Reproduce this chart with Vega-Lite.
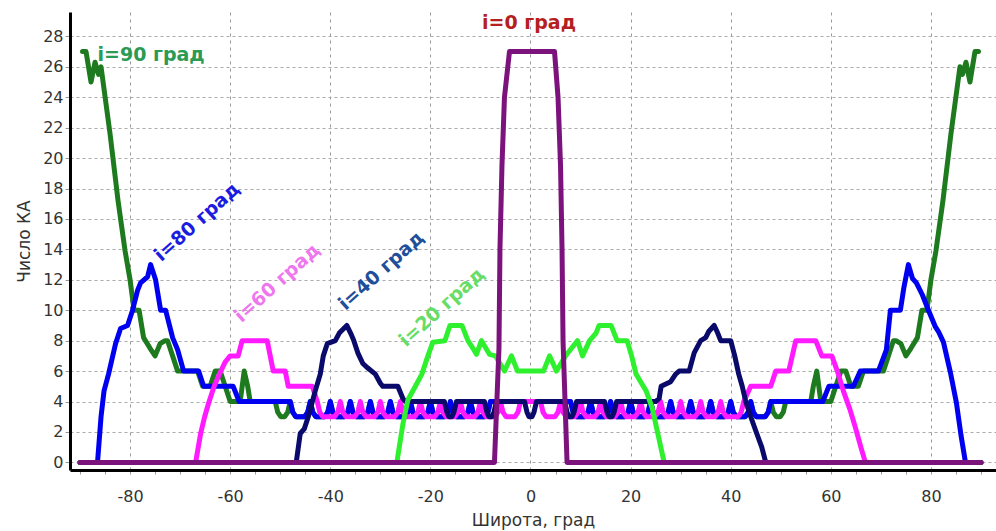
{
  "$schema": "https://vega.github.io/schema/vega-lite/v6.json",
  "autosize": "none",
  "width": 926,
  "height": 458,
  "padding": {"left": 70, "top": 12, "right": 0, "bottom": 61},
  "background": "white",
  "config": {"view": {"stroke": null}},
  "datasets": {
    "curves": [
      {"s": "90", "lat": -89.5, "n": 27}, {"s": "90", "lat": -88.8, "n": 27}, {"s": "90", "lat": -87.8, "n": 25}, {"s": "90", "lat": -87, "n": 26.3}, {"s": "90", "lat": -86.3, "n": 25.5}, {"s": "90", "lat": -85.8, "n": 26}, {"s": "90", "lat": -84, "n": 21.6}, {"s": "90", "lat": -82.4, "n": 17.2}, {"s": "90", "lat": -81, "n": 13.9}, {"s": "90", "lat": -80, "n": 12}, {"s": "90", "lat": -79.2, "n": 10}, {"s": "90", "lat": -78.2, "n": 10}, {"s": "90", "lat": -77.3, "n": 8.2}, {"s": "90", "lat": -76, "n": 7.5}, {"s": "90", "lat": -75, "n": 7}, {"s": "90", "lat": -74, "n": 7.8}, {"s": "90", "lat": -73, "n": 8}, {"s": "90", "lat": -72.5, "n": 8}, {"s": "90", "lat": -71.5, "n": 7}, {"s": "90", "lat": -70.5, "n": 6}, {"s": "90", "lat": -66.5, "n": 6}, {"s": "90", "lat": -65.5, "n": 5}, {"s": "90", "lat": -64, "n": 5}, {"s": "90", "lat": -63, "n": 6}, {"s": "90", "lat": -62, "n": 6}, {"s": "90", "lat": -61, "n": 5}, {"s": "90", "lat": -60, "n": 4}, {"s": "90", "lat": -58, "n": 4}, {"s": "90", "lat": -57.2, "n": 6}, {"s": "90", "lat": -56.5, "n": 5}, {"s": "90", "lat": -56, "n": 4}, {"s": "90", "lat": -51, "n": 4}, {"s": "90", "lat": -50.5, "n": 3.3}, {"s": "90", "lat": -49.9, "n": 3}, {"s": "90", "lat": -49.1, "n": 3}, {"s": "90", "lat": -48.5, "n": 3.3}, {"s": "90", "lat": -48, "n": 4},
      {"s": "90", "lat": -47.5, "n": 3.3}, {"s": "90", "lat": -46.9, "n": 3}, {"s": "90", "lat": -45.1, "n": 3}, {"s": "90", "lat": -44.5, "n": 3.3}, {"s": "90", "lat": -44, "n": 4},
      {"s": "90", "lat": -43.5, "n": 3.3}, {"s": "90", "lat": -42.9, "n": 3}, {"s": "90", "lat": -41.1, "n": 3}, {"s": "90", "lat": -40.5, "n": 3.3}, {"s": "90", "lat": -40, "n": 4},
      {"s": "90", "lat": -39.5, "n": 3.3}, {"s": "90", "lat": -38.9, "n": 3}, {"s": "90", "lat": -37.1, "n": 3}, {"s": "90", "lat": -36.5, "n": 3.3}, {"s": "90", "lat": -36, "n": 4},
      {"s": "90", "lat": -35.5, "n": 3.3}, {"s": "90", "lat": -34.9, "n": 3}, {"s": "90", "lat": -33.1, "n": 3}, {"s": "90", "lat": -32.5, "n": 3.3}, {"s": "90", "lat": -32, "n": 4},
      {"s": "90", "lat": -31.5, "n": 3.3}, {"s": "90", "lat": -30.9, "n": 3}, {"s": "90", "lat": -29.1, "n": 3}, {"s": "90", "lat": -28.5, "n": 3.3}, {"s": "90", "lat": -28, "n": 4},
      {"s": "90", "lat": -27.5, "n": 3.3}, {"s": "90", "lat": -26.9, "n": 3}, {"s": "90", "lat": -25.1, "n": 3}, {"s": "90", "lat": -24.5, "n": 3.3}, {"s": "90", "lat": -24, "n": 4},
      {"s": "90", "lat": -23.5, "n": 3.3}, {"s": "90", "lat": -22.9, "n": 3}, {"s": "90", "lat": -21.1, "n": 3}, {"s": "90", "lat": -20.5, "n": 3.3}, {"s": "90", "lat": -20, "n": 4},
      {"s": "90", "lat": -19.5, "n": 3.3}, {"s": "90", "lat": -18.9, "n": 3}, {"s": "90", "lat": -17.1, "n": 3}, {"s": "90", "lat": -16.5, "n": 3.3}, {"s": "90", "lat": -16, "n": 4},
      {"s": "90", "lat": -15.5, "n": 3.3}, {"s": "90", "lat": -14.9, "n": 3}, {"s": "90", "lat": -13.1, "n": 3}, {"s": "90", "lat": -12.5, "n": 3.3}, {"s": "90", "lat": -12, "n": 4},
      {"s": "90", "lat": -11.5, "n": 3.3}, {"s": "90", "lat": -10.9, "n": 3}, {"s": "90", "lat": -9.1, "n": 3}, {"s": "90", "lat": -8.5, "n": 3.3}, {"s": "90", "lat": -8, "n": 4},
      {"s": "90", "lat": 8, "n": 4}, {"s": "90", "lat": 8.5, "n": 3.3}, {"s": "90", "lat": 9.1, "n": 3}, {"s": "90", "lat": 10.9, "n": 3}, {"s": "90", "lat": 11.5, "n": 3.3},
      {"s": "90", "lat": 12, "n": 4}, {"s": "90", "lat": 12.5, "n": 3.3}, {"s": "90", "lat": 13.1, "n": 3}, {"s": "90", "lat": 14.9, "n": 3}, {"s": "90", "lat": 15.5, "n": 3.3},
      {"s": "90", "lat": 16, "n": 4}, {"s": "90", "lat": 16.5, "n": 3.3}, {"s": "90", "lat": 17.1, "n": 3}, {"s": "90", "lat": 18.9, "n": 3}, {"s": "90", "lat": 19.5, "n": 3.3},
      {"s": "90", "lat": 20, "n": 4}, {"s": "90", "lat": 20.5, "n": 3.3}, {"s": "90", "lat": 21.1, "n": 3}, {"s": "90", "lat": 22.9, "n": 3}, {"s": "90", "lat": 23.5, "n": 3.3},
      {"s": "90", "lat": 24, "n": 4}, {"s": "90", "lat": 24.5, "n": 3.3}, {"s": "90", "lat": 25.1, "n": 3}, {"s": "90", "lat": 26.9, "n": 3}, {"s": "90", "lat": 27.5, "n": 3.3},
      {"s": "90", "lat": 28, "n": 4}, {"s": "90", "lat": 28.5, "n": 3.3}, {"s": "90", "lat": 29.1, "n": 3}, {"s": "90", "lat": 30.9, "n": 3}, {"s": "90", "lat": 31.5, "n": 3.3},
      {"s": "90", "lat": 32, "n": 4}, {"s": "90", "lat": 32.5, "n": 3.3}, {"s": "90", "lat": 33.1, "n": 3}, {"s": "90", "lat": 34.9, "n": 3}, {"s": "90", "lat": 35.5, "n": 3.3},
      {"s": "90", "lat": 36, "n": 4}, {"s": "90", "lat": 36.5, "n": 3.3}, {"s": "90", "lat": 37.1, "n": 3}, {"s": "90", "lat": 38.9, "n": 3}, {"s": "90", "lat": 39.5, "n": 3.3},
      {"s": "90", "lat": 40, "n": 4}, {"s": "90", "lat": 40.5, "n": 3.3}, {"s": "90", "lat": 41.1, "n": 3}, {"s": "90", "lat": 42.9, "n": 3}, {"s": "90", "lat": 43.5, "n": 3.3},
      {"s": "90", "lat": 44, "n": 4}, {"s": "90", "lat": 44.5, "n": 3.3}, {"s": "90", "lat": 45.1, "n": 3}, {"s": "90", "lat": 46.9, "n": 3}, {"s": "90", "lat": 47.5, "n": 3.3},
      {"s": "90", "lat": 48, "n": 4}, {"s": "90", "lat": 48.5, "n": 3.3}, {"s": "90", "lat": 49.1, "n": 3}, {"s": "90", "lat": 49.9, "n": 3}, {"s": "90", "lat": 50.5, "n": 3.3}, {"s": "90", "lat": 51, "n": 4}, {"s": "90", "lat": 56, "n": 4}, {"s": "90", "lat": 56.5, "n": 5}, {"s": "90", "lat": 57.2, "n": 6}, {"s": "90", "lat": 58, "n": 4}, {"s": "90", "lat": 60, "n": 4}, {"s": "90", "lat": 61, "n": 5}, {"s": "90", "lat": 62, "n": 6}, {"s": "90", "lat": 63, "n": 6}, {"s": "90", "lat": 64, "n": 5}, {"s": "90", "lat": 65.5, "n": 5}, {"s": "90", "lat": 66.5, "n": 6}, {"s": "90", "lat": 70.5, "n": 6}, {"s": "90", "lat": 71.5, "n": 7}, {"s": "90", "lat": 72.5, "n": 8}, {"s": "90", "lat": 73, "n": 8}, {"s": "90", "lat": 74, "n": 7.8}, {"s": "90", "lat": 75, "n": 7}, {"s": "90", "lat": 76, "n": 7.5}, {"s": "90", "lat": 77.3, "n": 8.2}, {"s": "90", "lat": 78.2, "n": 10}, {"s": "90", "lat": 79.2, "n": 10}, {"s": "90", "lat": 80, "n": 12}, {"s": "90", "lat": 81, "n": 13.9}, {"s": "90", "lat": 82.4, "n": 17.2}, {"s": "90", "lat": 84, "n": 21.6}, {"s": "90", "lat": 85.8, "n": 26}, {"s": "90", "lat": 86.3, "n": 25.5}, {"s": "90", "lat": 87, "n": 26.3}, {"s": "90", "lat": 87.8, "n": 25}, {"s": "90", "lat": 88.8, "n": 27}, {"s": "90", "lat": 89.5, "n": 27},

      {"s": "80", "lat": -90, "n": 0}, {"s": "80", "lat": -86.5, "n": 0}, {"s": "80", "lat": -85.8, "n": 3}, {"s": "80", "lat": -85.2, "n": 4.7}, {"s": "80", "lat": -84.3, "n": 5.8}, {"s": "80", "lat": -82.9, "n": 7.8}, {"s": "80", "lat": -81.9, "n": 8.8}, {"s": "80", "lat": -80.5, "n": 9}, {"s": "80", "lat": -79.5, "n": 10}, {"s": "80", "lat": -78.5, "n": 11.3}, {"s": "80", "lat": -77.9, "n": 11.8}, {"s": "80", "lat": -76.5, "n": 12.2}, {"s": "80", "lat": -75.9, "n": 13}, {"s": "80", "lat": -74.9, "n": 12}, {"s": "80", "lat": -73.9, "n": 10}, {"s": "80", "lat": -72.9, "n": 10}, {"s": "80", "lat": -71.5, "n": 8.2}, {"s": "80", "lat": -70.5, "n": 7.4}, {"s": "80", "lat": -69.3, "n": 6}, {"s": "80", "lat": -66.3, "n": 6}, {"s": "80", "lat": -65.3, "n": 5}, {"s": "80", "lat": -59.4, "n": 5}, {"s": "80", "lat": -58.2, "n": 4}, {"s": "80", "lat": -48, "n": 4},
      {"s": "80", "lat": -47.5, "n": 3.3}, {"s": "80", "lat": -46.9, "n": 3}, {"s": "80", "lat": -45.1, "n": 3}, {"s": "80", "lat": -44.5, "n": 3.3}, {"s": "80", "lat": -44, "n": 4},
      {"s": "80", "lat": -43.5, "n": 3.3}, {"s": "80", "lat": -42.9, "n": 3}, {"s": "80", "lat": -41.1, "n": 3}, {"s": "80", "lat": -40.5, "n": 3.3}, {"s": "80", "lat": -40, "n": 4},
      {"s": "80", "lat": -39.5, "n": 3.3}, {"s": "80", "lat": -38.9, "n": 3}, {"s": "80", "lat": -37.1, "n": 3}, {"s": "80", "lat": -36.5, "n": 3.3}, {"s": "80", "lat": -36, "n": 4},
      {"s": "80", "lat": -35.5, "n": 3.3}, {"s": "80", "lat": -34.9, "n": 3}, {"s": "80", "lat": -33.1, "n": 3}, {"s": "80", "lat": -32.5, "n": 3.3}, {"s": "80", "lat": -32, "n": 4},
      {"s": "80", "lat": -31.5, "n": 3.3}, {"s": "80", "lat": -30.9, "n": 3}, {"s": "80", "lat": -29.1, "n": 3}, {"s": "80", "lat": -28.5, "n": 3.3}, {"s": "80", "lat": -28, "n": 4},
      {"s": "80", "lat": -27.5, "n": 3.3}, {"s": "80", "lat": -26.9, "n": 3}, {"s": "80", "lat": -25.1, "n": 3}, {"s": "80", "lat": -24.5, "n": 3.3}, {"s": "80", "lat": -24, "n": 4},
      {"s": "80", "lat": -23.5, "n": 3.3}, {"s": "80", "lat": -22.9, "n": 3}, {"s": "80", "lat": -21.1, "n": 3}, {"s": "80", "lat": -20.5, "n": 3.3}, {"s": "80", "lat": -20, "n": 4},
      {"s": "80", "lat": -19.5, "n": 3.3}, {"s": "80", "lat": -18.9, "n": 3}, {"s": "80", "lat": -17.1, "n": 3}, {"s": "80", "lat": -16.5, "n": 3.3}, {"s": "80", "lat": -16, "n": 4},
      {"s": "80", "lat": -15.5, "n": 3.3}, {"s": "80", "lat": -14.9, "n": 3}, {"s": "80", "lat": -13.1, "n": 3}, {"s": "80", "lat": -12.5, "n": 3.3}, {"s": "80", "lat": -12, "n": 4},
      {"s": "80", "lat": -11.5, "n": 3.3}, {"s": "80", "lat": -10.9, "n": 3}, {"s": "80", "lat": -9.1, "n": 3}, {"s": "80", "lat": -8.5, "n": 3.3}, {"s": "80", "lat": -8, "n": 4},
      {"s": "80", "lat": 8, "n": 4}, {"s": "80", "lat": 8.5, "n": 3.3}, {"s": "80", "lat": 9.1, "n": 3}, {"s": "80", "lat": 10.9, "n": 3}, {"s": "80", "lat": 11.5, "n": 3.3},
      {"s": "80", "lat": 12, "n": 4}, {"s": "80", "lat": 12.5, "n": 3.3}, {"s": "80", "lat": 13.1, "n": 3}, {"s": "80", "lat": 14.9, "n": 3}, {"s": "80", "lat": 15.5, "n": 3.3},
      {"s": "80", "lat": 16, "n": 4}, {"s": "80", "lat": 16.5, "n": 3.3}, {"s": "80", "lat": 17.1, "n": 3}, {"s": "80", "lat": 18.9, "n": 3}, {"s": "80", "lat": 19.5, "n": 3.3},
      {"s": "80", "lat": 20, "n": 4}, {"s": "80", "lat": 20.5, "n": 3.3}, {"s": "80", "lat": 21.1, "n": 3}, {"s": "80", "lat": 22.9, "n": 3}, {"s": "80", "lat": 23.5, "n": 3.3},
      {"s": "80", "lat": 24, "n": 4}, {"s": "80", "lat": 24.5, "n": 3.3}, {"s": "80", "lat": 25.1, "n": 3}, {"s": "80", "lat": 26.9, "n": 3}, {"s": "80", "lat": 27.5, "n": 3.3},
      {"s": "80", "lat": 28, "n": 4}, {"s": "80", "lat": 28.5, "n": 3.3}, {"s": "80", "lat": 29.1, "n": 3}, {"s": "80", "lat": 30.9, "n": 3}, {"s": "80", "lat": 31.5, "n": 3.3},
      {"s": "80", "lat": 32, "n": 4}, {"s": "80", "lat": 32.5, "n": 3.3}, {"s": "80", "lat": 33.1, "n": 3}, {"s": "80", "lat": 34.9, "n": 3}, {"s": "80", "lat": 35.5, "n": 3.3},
      {"s": "80", "lat": 36, "n": 4}, {"s": "80", "lat": 36.5, "n": 3.3}, {"s": "80", "lat": 37.1, "n": 3}, {"s": "80", "lat": 38.9, "n": 3}, {"s": "80", "lat": 39.5, "n": 3.3},
      {"s": "80", "lat": 40, "n": 4}, {"s": "80", "lat": 40.5, "n": 3.3}, {"s": "80", "lat": 41.1, "n": 3}, {"s": "80", "lat": 42.9, "n": 3}, {"s": "80", "lat": 43.5, "n": 3.3},
      {"s": "80", "lat": 44, "n": 4}, {"s": "80", "lat": 44.5, "n": 3.3}, {"s": "80", "lat": 45.1, "n": 3}, {"s": "80", "lat": 46.9, "n": 3}, {"s": "80", "lat": 47.5, "n": 3.3},
      {"s": "80", "lat": 48, "n": 4}, {"s": "80", "lat": 58.4, "n": 4}, {"s": "80", "lat": 59.6, "n": 5}, {"s": "80", "lat": 64.5, "n": 5}, {"s": "80", "lat": 65.9, "n": 6}, {"s": "80", "lat": 69.5, "n": 6}, {"s": "80", "lat": 71.1, "n": 7.4}, {"s": "80", "lat": 71.9, "n": 10}, {"s": "80", "lat": 73.9, "n": 10}, {"s": "80", "lat": 74.6, "n": 11.5}, {"s": "80", "lat": 75.5, "n": 13}, {"s": "80", "lat": 76.3, "n": 12.1}, {"s": "80", "lat": 77.1, "n": 11.8}, {"s": "80", "lat": 78.3, "n": 11}, {"s": "80", "lat": 79.5, "n": 10}, {"s": "80", "lat": 80.9, "n": 8.9}, {"s": "80", "lat": 81.5, "n": 8.6}, {"s": "80", "lat": 82.5, "n": 7.9}, {"s": "80", "lat": 83.9, "n": 5.9}, {"s": "80", "lat": 85.1, "n": 3.9}, {"s": "80", "lat": 86, "n": 1.8}, {"s": "80", "lat": 86.9, "n": 0}, {"s": "80", "lat": 90, "n": 0},

      {"s": "60", "lat": -90, "n": 0}, {"s": "60", "lat": -66.9, "n": 0}, {"s": "60", "lat": -65.9, "n": 1.9}, {"s": "60", "lat": -65.1, "n": 3}, {"s": "60", "lat": -64.3, "n": 3.9}, {"s": "60", "lat": -63.2, "n": 5}, {"s": "60", "lat": -62, "n": 5.9}, {"s": "60", "lat": -61, "n": 6.6}, {"s": "60", "lat": -60, "n": 7}, {"s": "60", "lat": -58.4, "n": 7}, {"s": "60", "lat": -57.6, "n": 8}, {"s": "60", "lat": -52.6, "n": 8}, {"s": "60", "lat": -51.4, "n": 6}, {"s": "60", "lat": -49, "n": 6}, {"s": "60", "lat": -48.4, "n": 5}, {"s": "60", "lat": -43.6, "n": 5}, {"s": "60", "lat": -42.6, "n": 4},
      {"s": "60", "lat": -42.1, "n": 3.3}, {"s": "60", "lat": -41.5, "n": 3}, {"s": "60", "lat": -39.1, "n": 3}, {"s": "60", "lat": -38.5, "n": 3.3}, {"s": "60", "lat": -38, "n": 4},
      {"s": "60", "lat": -37.5, "n": 3.3}, {"s": "60", "lat": -36.9, "n": 3}, {"s": "60", "lat": -35.1, "n": 3}, {"s": "60", "lat": -34.5, "n": 3.3}, {"s": "60", "lat": -34, "n": 4},
      {"s": "60", "lat": -33.5, "n": 3.3}, {"s": "60", "lat": -32.9, "n": 3}, {"s": "60", "lat": -31.1, "n": 3}, {"s": "60", "lat": -30.5, "n": 3.3}, {"s": "60", "lat": -30, "n": 4},
      {"s": "60", "lat": -29.5, "n": 3.3}, {"s": "60", "lat": -28.9, "n": 3}, {"s": "60", "lat": -27.1, "n": 3}, {"s": "60", "lat": -26.5, "n": 3.3}, {"s": "60", "lat": -26, "n": 4},
      {"s": "60", "lat": -25.5, "n": 3.3}, {"s": "60", "lat": -24.9, "n": 3}, {"s": "60", "lat": -23.1, "n": 3}, {"s": "60", "lat": -22.5, "n": 3.3}, {"s": "60", "lat": -22, "n": 4},
      {"s": "60", "lat": -21.5, "n": 3.3}, {"s": "60", "lat": -20.9, "n": 3}, {"s": "60", "lat": -19.1, "n": 3}, {"s": "60", "lat": -18.5, "n": 3.3}, {"s": "60", "lat": -18, "n": 4},
      {"s": "60", "lat": -17.5, "n": 3.3}, {"s": "60", "lat": -16.9, "n": 3}, {"s": "60", "lat": -15.1, "n": 3}, {"s": "60", "lat": -14.5, "n": 3.3}, {"s": "60", "lat": -14, "n": 4},
      {"s": "60", "lat": -13.5, "n": 3.3}, {"s": "60", "lat": -12.9, "n": 3}, {"s": "60", "lat": -11.1, "n": 3}, {"s": "60", "lat": -10.5, "n": 3.3}, {"s": "60", "lat": -10, "n": 4},
      {"s": "60", "lat": -9.5, "n": 3.3}, {"s": "60", "lat": -8.9, "n": 3}, {"s": "60", "lat": -7.1, "n": 3}, {"s": "60", "lat": -6.5, "n": 3.3}, {"s": "60", "lat": -6, "n": 4},
      {"s": "60", "lat": -5.5, "n": 3.3}, {"s": "60", "lat": -4.9, "n": 3}, {"s": "60", "lat": -3.1, "n": 3}, {"s": "60", "lat": -2.5, "n": 3.3}, {"s": "60", "lat": -2, "n": 4},
      {"s": "60", "lat": 2, "n": 4}, {"s": "60", "lat": 2.5, "n": 3.3}, {"s": "60", "lat": 3.1, "n": 3}, {"s": "60", "lat": 4.9, "n": 3}, {"s": "60", "lat": 5.5, "n": 3.3},
      {"s": "60", "lat": 6, "n": 4}, {"s": "60", "lat": 6.5, "n": 3.3}, {"s": "60", "lat": 7.1, "n": 3}, {"s": "60", "lat": 8.9, "n": 3}, {"s": "60", "lat": 9.5, "n": 3.3},
      {"s": "60", "lat": 10, "n": 4}, {"s": "60", "lat": 10.5, "n": 3.3}, {"s": "60", "lat": 11.1, "n": 3}, {"s": "60", "lat": 12.9, "n": 3}, {"s": "60", "lat": 13.5, "n": 3.3},
      {"s": "60", "lat": 14, "n": 4}, {"s": "60", "lat": 14.5, "n": 3.3}, {"s": "60", "lat": 15.1, "n": 3}, {"s": "60", "lat": 16.9, "n": 3}, {"s": "60", "lat": 17.5, "n": 3.3},
      {"s": "60", "lat": 18, "n": 4}, {"s": "60", "lat": 18.5, "n": 3.3}, {"s": "60", "lat": 19.1, "n": 3}, {"s": "60", "lat": 20.9, "n": 3}, {"s": "60", "lat": 21.5, "n": 3.3},
      {"s": "60", "lat": 22, "n": 4}, {"s": "60", "lat": 22.5, "n": 3.3}, {"s": "60", "lat": 23.1, "n": 3}, {"s": "60", "lat": 24.9, "n": 3}, {"s": "60", "lat": 25.5, "n": 3.3},
      {"s": "60", "lat": 26, "n": 4}, {"s": "60", "lat": 26.5, "n": 3.3}, {"s": "60", "lat": 27.1, "n": 3}, {"s": "60", "lat": 28.9, "n": 3}, {"s": "60", "lat": 29.5, "n": 3.3},
      {"s": "60", "lat": 30, "n": 4}, {"s": "60", "lat": 30.5, "n": 3.3}, {"s": "60", "lat": 31.1, "n": 3}, {"s": "60", "lat": 32.9, "n": 3}, {"s": "60", "lat": 33.5, "n": 3.3},
      {"s": "60", "lat": 34, "n": 4}, {"s": "60", "lat": 34.5, "n": 3.3}, {"s": "60", "lat": 35.1, "n": 3}, {"s": "60", "lat": 36.9, "n": 3}, {"s": "60", "lat": 37.5, "n": 3.3},
      {"s": "60", "lat": 38, "n": 4}, {"s": "60", "lat": 38.5, "n": 3.3}, {"s": "60", "lat": 39.1, "n": 3}, {"s": "60", "lat": 41.5, "n": 3}, {"s": "60", "lat": 42.1, "n": 3.3},
      {"s": "60", "lat": 42.6, "n": 4}, {"s": "60", "lat": 44, "n": 5}, {"s": "60", "lat": 48, "n": 5}, {"s": "60", "lat": 49, "n": 6}, {"s": "60", "lat": 51.6, "n": 6}, {"s": "60", "lat": 53, "n": 8}, {"s": "60", "lat": 57, "n": 8}, {"s": "60", "lat": 58.2, "n": 7}, {"s": "60", "lat": 60.2, "n": 7}, {"s": "60", "lat": 61.3, "n": 6}, {"s": "60", "lat": 62.5, "n": 4.7}, {"s": "60", "lat": 63.8, "n": 3.5}, {"s": "60", "lat": 64.9, "n": 2.3}, {"s": "60", "lat": 66, "n": 1}, {"s": "60", "lat": 66.9, "n": 0}, {"s": "60", "lat": 90, "n": 0},

      {"s": "40", "lat": -90, "n": 0}, {"s": "40", "lat": -46.8, "n": 0}, {"s": "40", "lat": -46, "n": 1.9}, {"s": "40", "lat": -45.2, "n": 2.2}, {"s": "40", "lat": -44.4, "n": 3}, {"s": "40", "lat": -43, "n": 4.7}, {"s": "40", "lat": -42, "n": 5.8}, {"s": "40", "lat": -41.4, "n": 7}, {"s": "40", "lat": -40.6, "n": 7.8}, {"s": "40", "lat": -39, "n": 8}, {"s": "40", "lat": -38.2, "n": 8.5}, {"s": "40", "lat": -36.7, "n": 9}, {"s": "40", "lat": -35.8, "n": 8.4}, {"s": "40", "lat": -35.3, "n": 8}, {"s": "40", "lat": -34.5, "n": 7.2}, {"s": "40", "lat": -33.5, "n": 6.5}, {"s": "40", "lat": -32.5, "n": 6.2}, {"s": "40", "lat": -31, "n": 5.8}, {"s": "40", "lat": -30, "n": 5.2}, {"s": "40", "lat": -29.5, "n": 5}, {"s": "40", "lat": -26.5, "n": 5}, {"s": "40", "lat": -25.5, "n": 4.2}, {"s": "40", "lat": -25, "n": 4},
      {"s": "40", "lat": -17.2, "n": 4}, {"s": "40", "lat": -16.7, "n": 3.3}, {"s": "40", "lat": -16.3, "n": 3}, {"s": "40", "lat": -15.7, "n": 3}, {"s": "40", "lat": -15.3, "n": 3.3}, {"s": "40", "lat": -14.8, "n": 4},
      {"s": "40", "lat": -9.2, "n": 4}, {"s": "40", "lat": -8.7, "n": 3.3}, {"s": "40", "lat": -8.3, "n": 3}, {"s": "40", "lat": -7.7, "n": 3}, {"s": "40", "lat": -7.3, "n": 3.3}, {"s": "40", "lat": -6.8, "n": 4},
      {"s": "40", "lat": -1.2, "n": 4}, {"s": "40", "lat": -0.7, "n": 3.3}, {"s": "40", "lat": -0.3, "n": 3}, {"s": "40", "lat": 0.3, "n": 3}, {"s": "40", "lat": 0.7, "n": 3.3}, {"s": "40", "lat": 1.2, "n": 4},
      {"s": "40", "lat": 6.8, "n": 4}, {"s": "40", "lat": 7.3, "n": 3.3}, {"s": "40", "lat": 7.7, "n": 3}, {"s": "40", "lat": 8.3, "n": 3}, {"s": "40", "lat": 8.7, "n": 3.3}, {"s": "40", "lat": 9.2, "n": 4},
      {"s": "40", "lat": 14.8, "n": 4}, {"s": "40", "lat": 15.3, "n": 3.3}, {"s": "40", "lat": 15.7, "n": 3}, {"s": "40", "lat": 16.3, "n": 3}, {"s": "40", "lat": 16.7, "n": 3.3}, {"s": "40", "lat": 17.2, "n": 4},
      {"s": "40", "lat": 25, "n": 4}, {"s": "40", "lat": 25.7, "n": 4.2}, {"s": "40", "lat": 26.1, "n": 5}, {"s": "40", "lat": 28, "n": 5.3}, {"s": "40", "lat": 29, "n": 5.8}, {"s": "40", "lat": 29.7, "n": 6}, {"s": "40", "lat": 31.7, "n": 6}, {"s": "40", "lat": 32.7, "n": 7.2}, {"s": "40", "lat": 34, "n": 8}, {"s": "40", "lat": 35, "n": 8.2}, {"s": "40", "lat": 35.6, "n": 8.6}, {"s": "40", "lat": 36.7, "n": 9}, {"s": "40", "lat": 37.4, "n": 8.5}, {"s": "40", "lat": 38, "n": 8}, {"s": "40", "lat": 40, "n": 8}, {"s": "40", "lat": 40.8, "n": 7}, {"s": "40", "lat": 41.6, "n": 5.8}, {"s": "40", "lat": 42.3, "n": 5}, {"s": "40", "lat": 43, "n": 4}, {"s": "40", "lat": 44, "n": 3}, {"s": "40", "lat": 45.2, "n": 1.9}, {"s": "40", "lat": 46.2, "n": 1}, {"s": "40", "lat": 47, "n": 0}, {"s": "40", "lat": 90, "n": 0},

      {"s": "20", "lat": -90, "n": 0}, {"s": "20", "lat": -26.7, "n": 0}, {"s": "20", "lat": -25.5, "n": 2.5}, {"s": "20", "lat": -24.5, "n": 4.1}, {"s": "20", "lat": -23, "n": 5}, {"s": "20", "lat": -21.7, "n": 5.8}, {"s": "20", "lat": -20.5, "n": 7}, {"s": "20", "lat": -19.5, "n": 7.9}, {"s": "20", "lat": -17.1, "n": 8}, {"s": "20", "lat": -16.1, "n": 9}, {"s": "20", "lat": -13.7, "n": 9}, {"s": "20", "lat": -12.5, "n": 8}, {"s": "20", "lat": -11.5, "n": 7.5}, {"s": "20", "lat": -10.8, "n": 7.1}, {"s": "20", "lat": -9.8, "n": 8}, {"s": "20", "lat": -8.2, "n": 7.1}, {"s": "20", "lat": -7, "n": 7}, {"s": "20", "lat": -5.2, "n": 6}, {"s": "20", "lat": -4.5, "n": 6.5}, {"s": "20", "lat": -3.8, "n": 7}, {"s": "20", "lat": -2.6, "n": 6}, {"s": "20", "lat": 2.6, "n": 6}, {"s": "20", "lat": 3.8, "n": 7}, {"s": "20", "lat": 4.5, "n": 6.5}, {"s": "20", "lat": 5.2, "n": 6}, {"s": "20", "lat": 7, "n": 7}, {"s": "20", "lat": 8.2, "n": 7.5}, {"s": "20", "lat": 9.4, "n": 8}, {"s": "20", "lat": 10.4, "n": 7}, {"s": "20", "lat": 11.8, "n": 8}, {"s": "20", "lat": 13.1, "n": 8.5}, {"s": "20", "lat": 13.7, "n": 9}, {"s": "20", "lat": 16.1, "n": 9}, {"s": "20", "lat": 17.3, "n": 8}, {"s": "20", "lat": 19.3, "n": 8}, {"s": "20", "lat": 20.2, "n": 7}, {"s": "20", "lat": 21.1, "n": 5.8}, {"s": "20", "lat": 22, "n": 5.3}, {"s": "20", "lat": 23.1, "n": 4.7}, {"s": "20", "lat": 24.3, "n": 3.6}, {"s": "20", "lat": 25.5, "n": 1.8}, {"s": "20", "lat": 26.7, "n": 0}, {"s": "20", "lat": 90, "n": 0},

      {"s": "0", "lat": -90, "n": 0}, {"s": "0", "lat": -7.2, "n": 0}, {"s": "0", "lat": -6.3, "n": 7.5}, {"s": "0", "lat": -6.1, "n": 14}, {"s": "0", "lat": -5.7, "n": 19.5}, {"s": "0", "lat": -5.2, "n": 24}, {"s": "0", "lat": -4.2, "n": 27}, {"s": "0", "lat": 4.8, "n": 27}, {"s": "0", "lat": 5.5, "n": 24}, {"s": "0", "lat": 6.0, "n": 19.5}, {"s": "0", "lat": 6.3, "n": 14}, {"s": "0", "lat": 6.5, "n": 8}, {"s": "0", "lat": 7.3, "n": 0}, {"s": "0", "lat": 90, "n": 0}
    ],
    "labels": [
      {"label": "i=90 град", "lat": -86.5, "n": 26.8},
      {"label": "i=0 град", "lat": -0.3, "n": 28.9},
      {"label": "i=80 град", "lat": -66.6, "n": 15.8},
      {"label": "i=60 град", "lat": -50.6, "n": 11.8},
      {"label": "i=40 град", "lat": -29.8, "n": 12.6},
      {"label": "i=20 град", "lat": -17.7, "n": 10.2}
    ]
  },
  "encoding": {
    "x": {
      "field": "lat", "type": "quantitative",
      "scale": {"domain": [-92, 93], "nice": false, "zero": false},
      "axis": {
        "values": [-90, -85, -80, -75, -70, -65, -60, -55, -50, -45, -40, -35, -30, -25, -20, -15, -10, -5, 0, 5, 10, 15, 20, 25, 30, 35, 40, 45, 50, 55, 60, 65, 70, 75, 80, 85, 90],
        "labelExpr": "datum.value % 20 === 0 ? '' + datum.value : ''",
        "labelOverlap": false,
        "labelFlush": false,
        "grid": true,
        "gridOpacity": {"condition": {"test": "datum.value % 20 === 0", "value": 1}, "value": 0},
        "gridDash": [3, 4],
        "gridColor": "#999999",
        "domainColor": "#000000",
        "domainWidth": 3,
        "tickColor": "#999999",
        "tickSize": 4,
        "labelFont": "DejaVu Sans",
        "labelFontSize": 16,
        "labelColor": "#333333",
        "labelPadding": 14,
        "title": "Широта, град",
        "titleFont": "DejaVu Sans",
        "titleFontSize": 17,
        "titleFontWeight": "normal",
        "titleColor": "#333333",
        "titlePadding": 8
      }
    },
    "y": {
      "field": "n", "type": "quantitative",
      "scale": {"domain": [-0.5, 29.6], "nice": false, "zero": false},
      "axis": {
        "values": [0, 2, 4, 6, 8, 10, 12, 14, 16, 18, 20, 22, 24, 26, 28],
        "labelExpr": "'' + datum.value",
        "grid": true,
        "gridDash": [3, 3],
        "gridColor": "#aaaaaa",
        "domainColor": "#000000",
        "domainWidth": 3,
        "tickColor": "#999999",
        "tickSize": 5,
        "labelFont": "DejaVu Sans",
        "labelFontSize": 16,
        "labelColor": "#333333",
        "labelPadding": 2,
        "title": "Число КА",
        "titleFont": "DejaVu Sans",
        "titleFontSize": 17,
        "titleFontWeight": "normal",
        "titleColor": "#333333",
        "titlePadding": 9
      }
    }
  },
  "layer": [
    {"data": {"name": "curves"}, "transform": [{"filter": "datum.s === '90'"}], "mark": {"type": "line", "color": "#1e7a1e", "strokeWidth": 5, "strokeJoin": "round", "strokeCap": "round"}},
    {"data": {"name": "curves"}, "transform": [{"filter": "datum.s === '80'"}], "mark": {"type": "line", "color": "#0000f0", "strokeWidth": 5, "strokeJoin": "round", "strokeCap": "round"}},
    {"data": {"name": "curves"}, "transform": [{"filter": "datum.s === '60'"}], "mark": {"type": "line", "color": "#ff1aff", "strokeWidth": 5, "strokeJoin": "round", "strokeCap": "round"}},
    {"data": {"name": "curves"}, "transform": [{"filter": "datum.s === '40'"}], "mark": {"type": "line", "color": "#0a0a6a", "strokeWidth": 5, "strokeJoin": "round", "strokeCap": "round"}},
    {"data": {"name": "curves"}, "transform": [{"filter": "datum.s === '20'"}], "mark": {"type": "line", "color": "#2ef02e", "strokeWidth": 5, "strokeJoin": "round", "strokeCap": "round"}},
    {"data": {"name": "curves"}, "transform": [{"filter": "datum.s === '0'"}], "mark": {"type": "line", "color": "#7c137c", "strokeWidth": 5, "strokeJoin": "round", "strokeCap": "round"}},
    {
      "data": {"name": "labels"},
      "transform": [{"filter": "datum.label === 'i=90 град'"}],
      "mark": {"type": "text", "align": "left", "baseline": "middle", "font": "DejaVu Sans", "fontWeight": "bold", "fontSize": 19},
      "encoding": {
        "text": {"field": "label"},
        "color": {"field": "label", "type": "nominal", "legend": null,
          "scale": {"domain": ["i=90 град", "i=0 град", "i=80 град", "i=60 град", "i=40 град", "i=20 град"], "range": ["#2a9a55", "#b51f1f", "#1c1ce0", "#ee77ee", "#1f4f9a", "#66dd66"]}}
      }
    },
    {
      "data": {"name": "labels"},
      "transform": [{"filter": "datum.label === 'i=0 град'"}],
      "mark": {"type": "text", "align": "center", "baseline": "middle", "font": "DejaVu Sans", "fontWeight": "bold", "fontSize": 19},
      "encoding": {
        "text": {"field": "label"},
        "color": {"field": "label", "type": "nominal", "legend": null,
          "scale": {"domain": ["i=90 град", "i=0 град", "i=80 град", "i=60 град", "i=40 град", "i=20 град"], "range": ["#2a9a55", "#b51f1f", "#1c1ce0", "#ee77ee", "#1f4f9a", "#66dd66"]}}
      }
    },
    {
      "data": {"name": "labels"},
      "transform": [{"filter": "datum.label !== 'i=0 град' && datum.label !== 'i=90 град'"}],
      "mark": {"type": "text", "align": "center", "baseline": "middle", "angle": -42, "font": "DejaVu Sans", "fontWeight": "bold", "fontSize": 19},
      "encoding": {
        "text": {"field": "label"},
        "color": {"field": "label", "type": "nominal", "legend": null,
          "scale": {"domain": ["i=90 град", "i=0 град", "i=80 град", "i=60 град", "i=40 град", "i=20 град"], "range": ["#2a9a55", "#b51f1f", "#1c1ce0", "#ee77ee", "#1f4f9a", "#66dd66"]}}
      }
    }
  ]
}
